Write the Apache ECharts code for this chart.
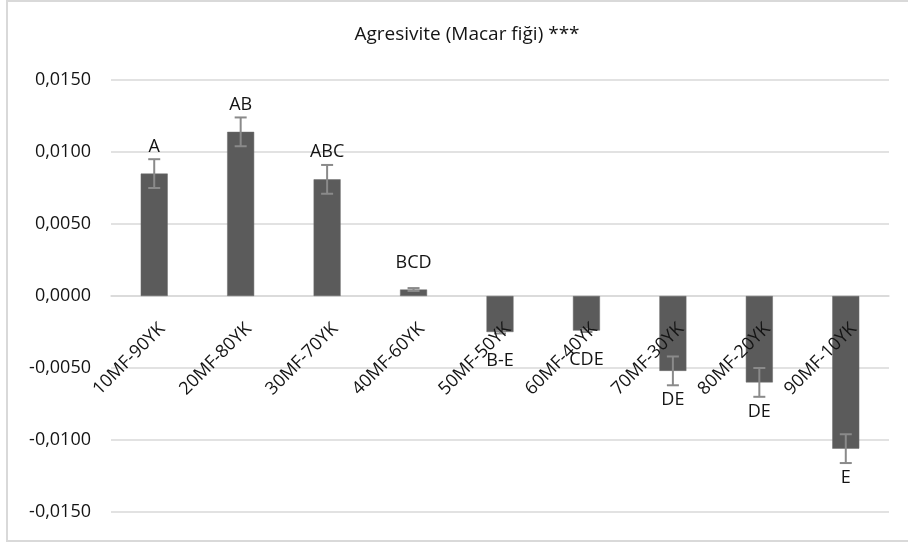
<!DOCTYPE html>
<html>
<head>
<meta charset="utf-8">
<script src="https://cdn.jsdelivr.net/npm/echarts@6/dist/echarts.min.js"></script>
<style>
  html, body { margin: 0; padding: 0; background: #ffffff; }
  #chart { width: 908px; height: 543px; }
</style>
</head>
<body>
<div id="chart"></div>
<script>
// Mixture groups (MF / YK ratios)
const categories = ['10MF-90YK', '20MF-80YK', '30MF-70YK', '40MF-60YK', '50MF-50YK',
                    '60MF-40YK', '70MF-30YK', '80MF-20YK', '90MF-10YK'];
// Mean aggressiveness per group
const means = [0.0085, 0.0114, 0.0081, 0.00045, -0.0025, -0.0024, -0.0052, -0.0060, -0.0106];
// Standard error per group
const errors = [0.0010, 0.0010, 0.0010, 0.0001, 0.0001, 0.0001, 0.0010, 0.0010, 0.0010];
// Significance group letters
const letters = ['A', 'AB', 'ABC', 'BCD', 'B-E', 'CDE', 'DE', 'DE', 'E'];
// Value axis ticks
const yTicks = [-0.015, -0.010, -0.005, 0.000, 0.005, 0.010, 0.015];

const FONT = '"Open Sans", "Liberation Sans", sans-serif';
const TEXT = '#141414';
const GRID = '#d9d9d9';

const chart = echarts.init(document.getElementById('chart'), null, { renderer: 'canvas' });

const fmt = v => {
  const s = Math.abs(v).toFixed(4).replace('.', ',');
  return (v < -1e-12 ? '-' : '') + s;
};

const errData = means.map((m, i) => [i, m, errors[i]]);
const labelData = means.map((m, i) => [i, m]);
const catLabelData = categories.map((c, i) => [i, 0]);

chart.setOption({
  backgroundColor: '#ffffff',
  animation: false,
  title: {
    text: 'Agresivite (Macar fiği) ***',
    left: 462,
    top: 20,
    textAlign: 'center',
    textStyle: { fontFamily: FONT, fontSize: 19, fontWeight: 'normal', color: TEXT }
  },
  graphic: [{
    type: 'rect',
    shape: { x: 7, y: 1, width: 920, height: 540 },
    style: { fill: null, stroke: GRID, lineWidth: 2 },
    silent: true
  }],
  grid: { left: 111, right: 19, top: 80, bottom: 31, containLabel: false, outerBoundsMode: 'none' },
  xAxis: {
    type: 'category',
    data: categories,
    axisLine: { onZero: true, lineStyle: { color: GRID, width: 1.5 } },
    axisTick: { show: false },
    axisLabel: { show: false },
    splitLine: { show: false }
  },
  yAxis: {
    type: 'value',
    min: yTicks[0],
    max: yTicks[yTicks.length - 1],
    interval: 0.005,
    axisLine: { show: false },
    axisTick: { show: false },
    axisLabel: {
      margin: 20,
      fontFamily: FONT,
      fontSize: 18,
      color: TEXT,
      formatter: fmt
    },
    splitLine: { lineStyle: { color: GRID, width: 1.5 } }
  },
  series: [
    {
      type: 'bar',
      data: means,
      barWidth: 27,
      itemStyle: { color: '#5b5b5b', borderColor: '#6a6a6a', borderWidth: 0.5 },
      z: 2
    },
    {
      // error bars with end caps
      type: 'custom',
      data: errData,
      z: 3,
      renderItem: (params, api) => {
        const i = api.value(0), m = api.value(1), e = api.value(2);
        const hi = api.coord([i, m + e]);
        const lo = api.coord([i, m - e]);
        const cap = 6;
        const style = { stroke: '#8a8a8a', lineWidth: 2 };
        return {
          type: 'group',
          children: [
            { type: 'line', shape: { x1: hi[0], y1: hi[1], x2: lo[0], y2: lo[1] }, style },
            { type: 'line', shape: { x1: hi[0] - cap, y1: hi[1], x2: hi[0] + cap, y2: hi[1] }, style },
            { type: 'line', shape: { x1: lo[0] - cap, y1: lo[1], x2: lo[0] + cap, y2: lo[1] }, style }
          ]
        };
      }
    },
    {
      // category names, slanted, hanging from the zero line
      type: 'custom',
      data: catLabelData,
      z: 5,
      renderItem: (params, api) => {
        const p = api.coord([api.value(0), api.value(1)]);
        return {
          type: 'text',
          x: p[0] + 8,
          y: p[1] + 30,
          rotation: Math.PI / 4,
          style: {
            text: categories[params.dataIndex],
            align: 'right',
            verticalAlign: 'middle',
            font: '18px ' + FONT,
            fill: TEXT
          }
        };
      }
    },
    {
      // group letters beyond the bar end
      type: 'custom',
      data: labelData,
      z: 4,
      renderItem: (params, api) => {
        const i = api.value(0), m = api.value(1);
        const p = api.coord([i, m]);
        const off = m >= 0 ? -27 : 29;
        return {
          type: 'text',
          style: {
            text: letters[params.dataIndex],
            x: p[0],
            y: p[1] + off,
            align: 'center',
            verticalAlign: 'middle',
            font: '18px ' + FONT,
            fill: TEXT
          }
        };
      }
    }
  ]
});
</script>
</body>
</html>
